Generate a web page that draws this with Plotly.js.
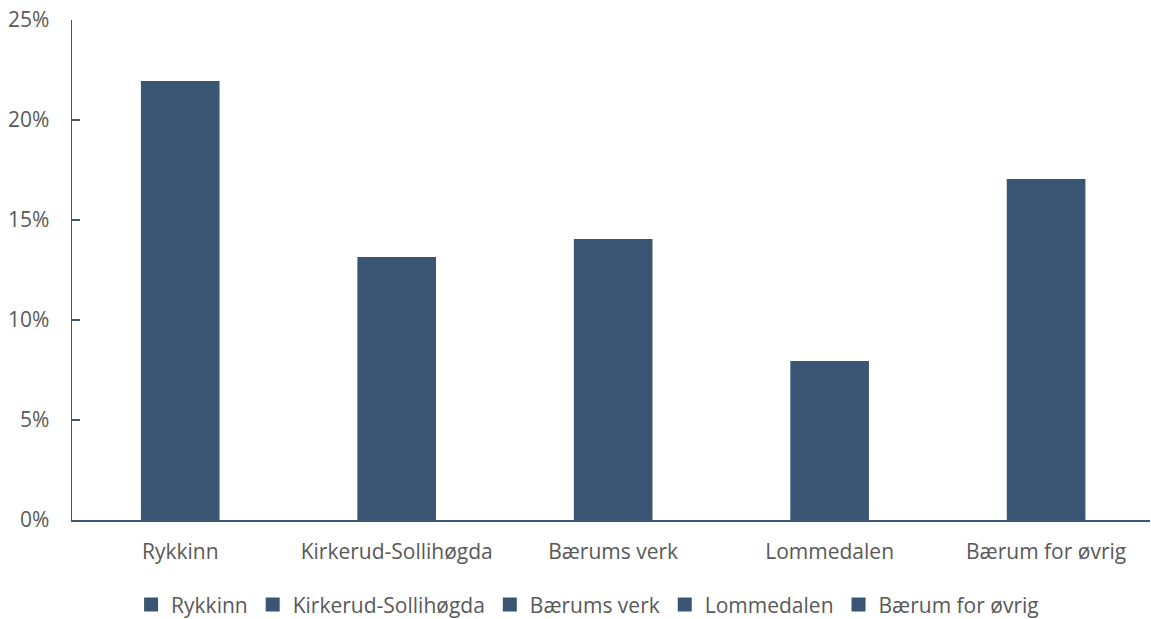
<!DOCTYPE html>
<html>
<head>
<meta charset="utf-8">
<script src="https://cdn.plot.ly/plotly-3.0.1.min.js"></script>
<style>
  html, body { margin: 0; padding: 0; background: #fff; }
  #chart { width: 1151px; height: 619px; }
</style>
</head>
<body>
<div id="chart"></div>
<script>
// Share per area (percent)
const areas = ["Rykkinn", "Kirkerud-Sollihøgda", "Bærums verk", "Lommedalen", "Bærum for øvrig"];
const shares = [21.9, 13.1, 14.0, 7.9, 17.0];
const yTicks = [0, 5, 10, 15, 20, 25];
const yTickLabels = ["0%", "5%", "10%", "15%", "20%", "25%"];

const barColor = "#3a5674";
const axisColor = "#3b5877";
const textColor = "#595959";
const fontFamily = "Open Sans, Liberation Sans, sans-serif";
const fontSize = 21;

// One trace per area so every area gets its own legend entry;
// a same-coloured outline makes the legend squares a little larger
const traces = areas.map((name, i) => ({
  type: "bar",
  name: name,
  x: [name],
  y: [shares[i]],
  width: 0.354,
  marker: { color: barColor, line: { width: 2, color: barColor } },
  hoverinfo: "x+y"
}));

const layout = {
  width: 1151,
  height: 619,
  margin: { l: 72, r: 1, t: 20, b: 99 },
  paper_bgcolor: "#ffffff",
  plot_bgcolor: "#ffffff",
  barmode: "overlay",
  font: { family: fontFamily, color: textColor, size: fontSize },
  showlegend: true,
  legend: {
    orientation: "h",
    xref: "container",
    yref: "container",
    x: 0.5105,
    xanchor: "center",
    y: 0.023,
    yanchor: "middle",
    font: { family: fontFamily, color: textColor, size: fontSize },
    itemwidth: 30,
    traceorder: "normal"
  },
  xaxis: {
    type: "category",
    categoryorder: "array",
    categoryarray: areas,
    range: [-0.5, 4.48],
    showline: true,
    linecolor: axisColor,
    linewidth: 1.5,
    ticks: "",
    showgrid: false,
    zeroline: false,
    tickfont: { family: fontFamily, color: textColor, size: fontSize },
    ticklabelstandoff: 12,
    fixedrange: true
  },
  yaxis: {
    range: [0, 25],
    tickvals: yTicks,
    ticktext: yTickLabels,
    showline: true,
    linecolor: axisColor,
    linewidth: 1.5,
    ticks: "inside",
    ticklen: 8,
    tickwidth: 1.5,
    tickcolor: axisColor,
    showgrid: false,
    zeroline: false,
    tickfont: { family: fontFamily, color: textColor, size: fontSize },
    ticklabelstandoff: 17,
    fixedrange: true
  }
};

Plotly.newPlot("chart", traces, layout, { displayModeBar: false, staticPlot: true });
</script>
</body>
</html>
